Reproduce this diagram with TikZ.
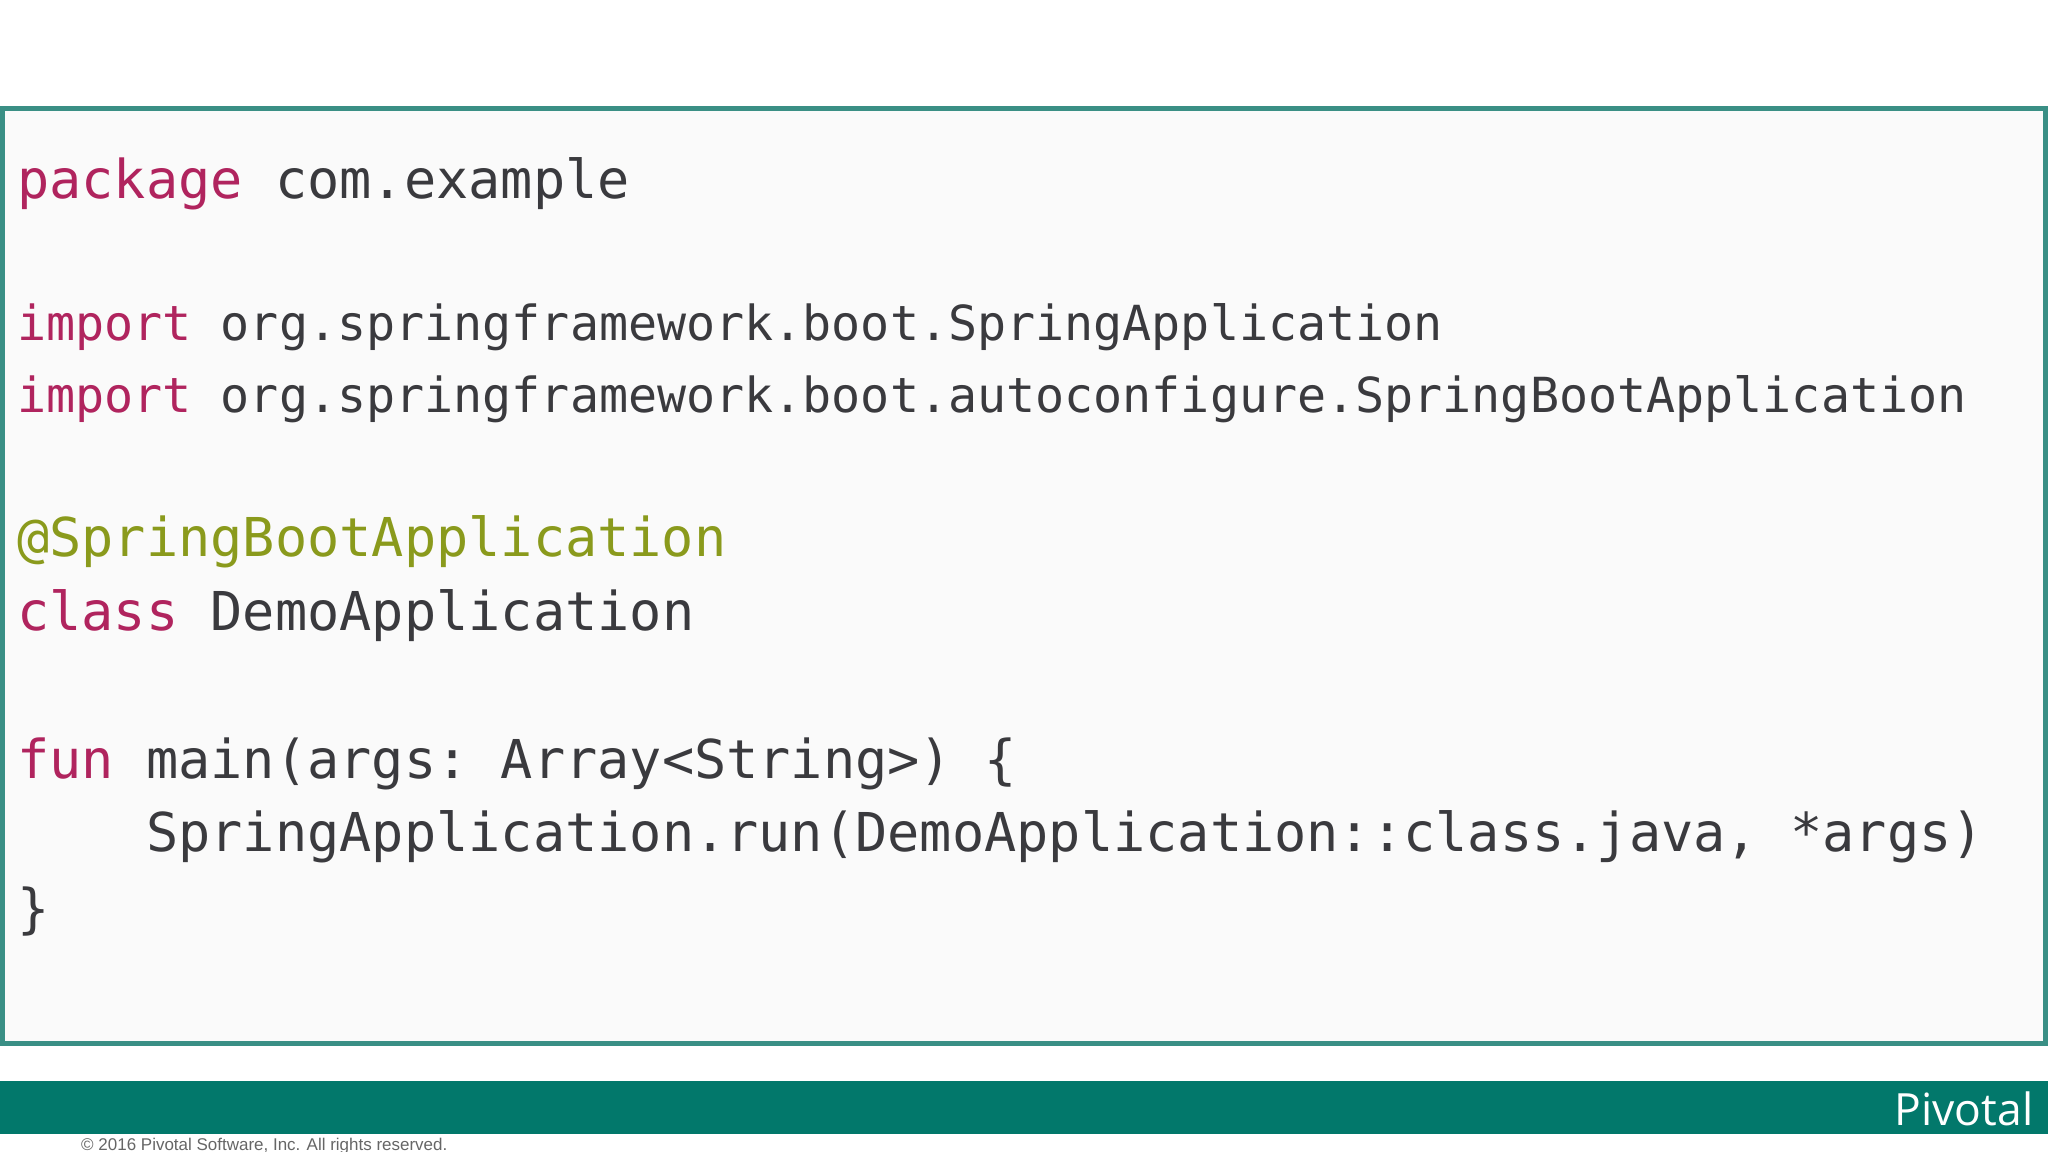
\documentclass[tikz,border=0pt]{standalone}
\usepackage{fontspec}
\setmonofont{DejaVu Sans Mono}
\setsansfont{Liberation Sans}
\newfontfamily\pivfont{Open Sans}
\definecolor{kw}{HTML}{B0245E}
\definecolor{ann}{HTML}{8A9A1C}
\definecolor{txt}{HTML}{3A3A3E}
\definecolor{frame}{HTML}{3A8F85}
\definecolor{bar}{HTML}{02786B}
\begin{document}
\begin{tikzpicture}[x=1pt,y=-1pt,
  code/.style={anchor=base west,inner sep=0pt,font=\fontsize{41}{44}\selectfont\ttfamily,text=txt},
  codesmall/.style={code,font=\fontsize{37}{40}\selectfont\ttfamily}]
\useasboundingbox[fill=white] (0,0) rectangle (1568,882);
\fill[white!98!black] (3,84) rectangle (1565,798);
\draw[frame,line width=3.5pt] (2,83) rectangle (1566,799);
\fill[bar] (0,828) rectangle (1568,868);
\node[anchor=base east,inner sep=0pt,text=white,font=\pivfont\fontsize{34}{34}\selectfont] (piv) at (1557,862) {Pivotal};
\node[anchor=base west,inner sep=0pt,text=black!60,font=\sffamily\fontsize{13}{13}\selectfont] (copy) at (62,881) {© 2016 Pivotal Software, Inc. All rights reserved.};
\node[code] (l1) at (13,152) {\textcolor{kw}{package} com.example};
\node[codesmall] (l2) at (13,261) {\textcolor{kw}{import} org.springframework.boot.SpringApplication};
\node[codesmall] (l3) at (13,316) {\textcolor{kw}{import} org.springframework.boot.autoconfigure.SpringBootApplication};
\node[code] (l4) at (13,426) {\textcolor{ann}{@SpringBootApplication}};
\node[code] (l5) at (13,483) {\textcolor{kw}{class} DemoApplication};
\node[code] (l6) at (13,596) {\textcolor{kw}{fun} main(args: Array<String>) \{};
\node[code] (l7) at (13,652) {\hphantom{xxxx}SpringApplication.run(DemoApplication::class.java, *args)};
\node[code] (l8) at (13,710) {\}};
\end{tikzpicture}
\end{document}
